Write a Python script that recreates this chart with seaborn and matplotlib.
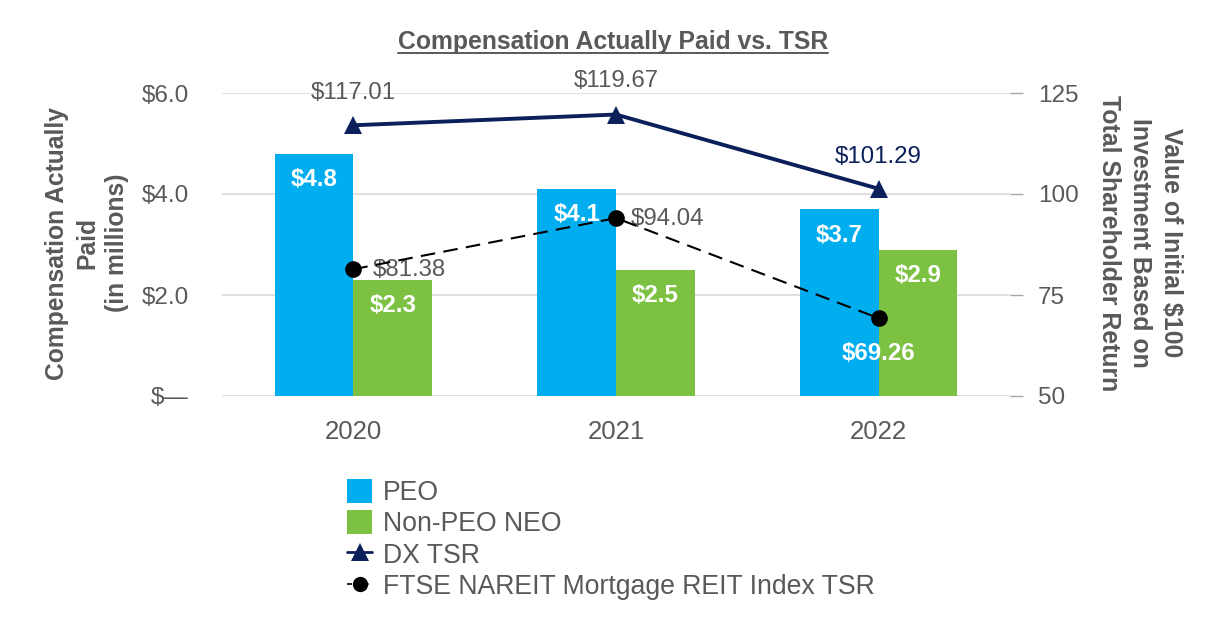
import matplotlib
matplotlib.use("Agg")
import matplotlib.pyplot as plt
import seaborn as sns
import pandas as pd
from matplotlib.patches import Patch
from matplotlib.lines import Line2D

years = ["2020", "2021", "2022"]
peo = [4.8, 4.1, 3.7]
non_peo = [2.3, 2.5, 2.9]
dx_tsr = [117.01, 119.67, 101.29]
ftse_tsr = [81.38, 94.04, 69.26]
left_ticks = [0, 2, 4, 6]
left_tick_labels = ["$\u2014", "$2.0", "$4.0", "$6.0"]
right_ticks = [50, 75, 100, 125]

sns.set_theme(style="white")
plt.rcParams['font.family'] = ['Liberation Sans', 'DejaVu Sans']

GRAY = "#595959"
BLUE = "#00ADEF"
GREEN = "#7DC142"
NAVY = "#0B1F5B"

df = pd.DataFrame({
    "year": years * 2,
    "value": peo + non_peo,
    "series": ["PEO"] * 3 + ["Non-PEO NEO"] * 3,
})

fig = plt.figure(figsize=(12.26, 6.4), dpi=100)
ax = fig.add_axes([222/1226, 1-396/640, (1010-222)/1226, (396-93)/640])

sns.barplot(data=df, x="year", y="value", hue="series",
            palette=[BLUE, GREEN], width=0.6, gap=0, ax=ax,
            saturation=1, legend=False, linewidth=0)
ax.set_xlim(-0.5, 2.5)
ax.set_ylim(0, 6)
ax.set_yticks(left_ticks)
ax.set_yticklabels(left_tick_labels)
ax.grid(axis="y", color="#D9D9D9", linewidth=1.2)
ax.set_axisbelow(True)
for s in ax.spines.values():
    s.set_visible(False)
ax.tick_params(axis="y", length=0, pad=24, labelsize=17.5, labelcolor=GRAY)
ax.tick_params(axis="x", length=0, pad=17, labelsize=18.5, labelcolor=GRAY)
ax.set_xlabel("")
ax.set_ylabel("")

# bar labels
for i, (p, n) in enumerate(zip(peo, non_peo)):
    ax.annotate(f"${p:.1f}", (i - 0.15, p), xytext=(0, -26), textcoords="offset pixels",
                ha="center", va="center", color="white", fontweight="bold", fontsize=17.3)
    ax.annotate(f"${n:.1f}", (i + 0.15, n), xytext=(0, -26), textcoords="offset pixels",
                ha="center", va="center", color="white", fontweight="bold", fontsize=17.3)

ax2 = ax.twinx()
ax2.set_ylim(50, 125)
ax2.set_yticks(right_ticks)
for s in ax2.spines.values():
    s.set_visible(False)
ax2.tick_params(axis="y", length=9, width=1, color="#A6A6A6", pad=11,
                labelsize=17.5, labelcolor=GRAY, direction="out")
xs = [0, 1, 2]
sns.lineplot(x=xs, y=dx_tsr, ax=ax2, color=NAVY, linewidth=2.8, marker="^",
             markersize=13, markeredgewidth=0, zorder=5)
sns.lineplot(x=xs, y=ftse_tsr, ax=ax2, color="black", linewidth=1.5, marker="o",
             markersize=12, markeredgewidth=0, linestyle=(0, (7, 4)), zorder=5)
ax2.set_xlim(-0.5, 2.5)
ax2.set_ylabel("")

# line labels
FS = 17.3
ax2.annotate(f"${dx_tsr[0]:.2f}", (0, dx_tsr[0]), xytext=(0, 32), textcoords="offset pixels",
             ha="center", va="center", color=GRAY, fontsize=FS)
ax2.annotate(f"${dx_tsr[1]:.2f}", (1, dx_tsr[1]), xytext=(0, 34), textcoords="offset pixels",
             ha="center", va="center", color=GRAY, fontsize=FS)
ax2.annotate(f"${dx_tsr[2]:.2f}", (2, dx_tsr[2]), xytext=(0, 32), textcoords="offset pixels",
             ha="center", va="center", color=NAVY, fontsize=FS)
ax2.annotate(f"${ftse_tsr[0]:.2f}", (0, ftse_tsr[0]), xytext=(19, -1), textcoords="offset pixels",
             ha="left", va="center", color=GRAY, fontsize=FS)
ax2.annotate(f"${ftse_tsr[1]:.2f}", (1, ftse_tsr[1]), xytext=(15, -1), textcoords="offset pixels",
             ha="left", va="center", color=GRAY, fontsize=FS)
ax2.annotate(f"${ftse_tsr[2]:.2f}", (2, ftse_tsr[2]), xytext=(0, -35), textcoords="offset pixels",
             ha="center", va="center", color="white", fontweight="bold", fontsize=FS)

# axis titles
fig.text(87/1226, 1-243/640, "Compensation Actually\nPaid\n(in millions)", rotation=90,
         ha="center", va="center", multialignment="center", color=GRAY,
         fontweight="bold", fontsize=17.7, linespacing=1.32)
fig.text(1140/1226, 1-243/640, "Value of Initial $100\nInvestment Based on\nTotal Shareholder Return",
         rotation=-90, ha="center", va="center", multialignment="center", color=GRAY,
         fontweight="bold", fontsize=17.9, linespacing=1.36)

# title with underline
title = fig.text(613/1226, 1-42/640, "Compensation Actually Paid vs. TSR", ha="center",
                 va="center", color=GRAY, fontweight="bold", fontsize=17.8)
fig.canvas.draw()
bb = title.get_window_extent().transformed(fig.transFigure.inverted())
fig.add_artist(Line2D([bb.x0, bb.x1], [bb.y0 + 0.001, bb.y0 + 0.001], color=GRAY,
                      linewidth=1.4, transform=fig.transFigure))

handles = [
    Patch(facecolor=BLUE, edgecolor="none"),
    Patch(facecolor=GREEN, edgecolor="none"),
    Line2D([], [], color=NAVY, marker="^", markersize=13, linewidth=2, markeredgewidth=0),
    Line2D([], [], color="black", marker="o", markersize=11, linewidth=1.2, markeredgewidth=0,
           linestyle=(0, (3, 2))),
]
labels = ["PEO", "Non-PEO NEO", "DX TSR", "FTSE NAREIT Mortgage REIT Index TSR"]
leg = fig.legend(handles, labels, loc="upper left", bbox_to_anchor=(347/1226, 1-479/640),
                 frameon=False, fontsize=19.2, handlelength=0.95, handleheight=1.0,
                 handletextpad=0.4, labelspacing=0.16, borderaxespad=0, borderpad=0)
for t in leg.get_texts():
    t.set_color(GRAY)

fig.savefig("out.png", dpi=100)
